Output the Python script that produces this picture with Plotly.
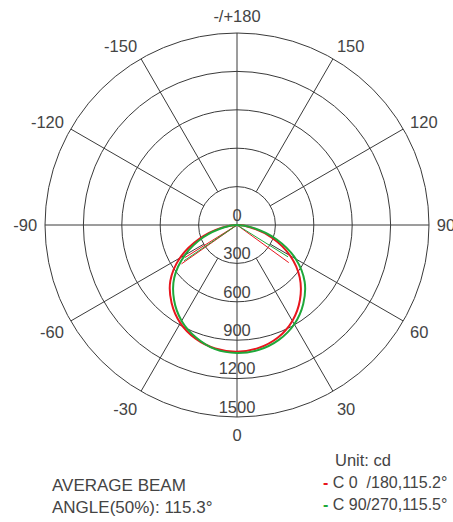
import plotly.graph_objects as go

W, H = 453, 522

# ---- data ----
angle_ticks = [0, 30, 60, 90, 120, 150, 180, 210, 240, 270, 300, 330]
angle_labels = ["0", "30", "60", "90", "120", "150", "-/+180", "-150", "-120", "-90", "-60", "-30"]
radial_ticks = [0, 300, 600, 900, 1200, 1500]

theta_deg = [-90, -80, -70, -60, -50, -40, -30, -20, -10, 0, 10, 20, 30, 40, 50, 60, 70, 80, 90]
red_cd = [0, 120, 310, 515, 680, 795, 885, 945, 980, 990, 975, 935, 865, 765, 640, 480, 290, 110, 0]
green_cd = [0, 100, 280, 470, 640, 765, 865, 935, 985, 1000, 990, 955, 895, 805, 690, 530, 330, 130, 0]

red_chord_theta = [-58, -55, 54]
red_chord_cd = [480, 530, 500]
green_chord_theta = [-56, 58]
green_chord_cd = [500, 470]

RED = "#e8161e"
GREEN = "#1fa83a"
GRID = "#3a3a3a"
TXT = "#444444"
LABEL_SIZE = 16.5

fig = go.Figure()

# spokes (axes through centre; others start at first ring)
sp_t, sp_r = [], []
for a in angle_ticks:
    r0 = 0 if a % 90 == 0 else radial_ticks[1]
    sp_t += [a, a, None]
    sp_r += [r0, radial_ticks[-1], None]
fig.add_trace(go.Scatterpolar(theta=sp_t, r=sp_r, mode="lines",
                              line=dict(color=GRID, width=1), hoverinfo="skip", showlegend=False))

# radial value labels along the 0 direction
fig.add_trace(go.Scatterpolar(theta=[0] * len(radial_ticks), r=radial_ticks, mode="text",
                              text=[str(v) for v in radial_ticks], textposition="top center",
                              textfont=dict(size=LABEL_SIZE, color=TXT, family="Liberation Sans, Arial"),
                              cliponaxis=False, hoverinfo="skip", showlegend=False))

def chords(th, rr):
    t, r = [], []
    for a, v in zip(th, rr):
        t += [a, a, None]
        r += [0, v, None]
    return t, r

t, r = chords(red_chord_theta, red_chord_cd)
fig.add_trace(go.Scatterpolar(theta=t, r=r, mode="lines", line=dict(color=RED, width=1),
                              hoverinfo="skip", showlegend=False))
t, r = chords(green_chord_theta, green_chord_cd)
fig.add_trace(go.Scatterpolar(theta=t, r=r, mode="lines", line=dict(color=GREEN, width=1),
                              hoverinfo="skip", showlegend=False))

fig.add_trace(go.Scatterpolar(theta=theta_deg, r=red_cd, mode="lines",
                              line=dict(color=RED, width=2, shape="spline"), showlegend=False))
fig.add_trace(go.Scatterpolar(theta=theta_deg, r=green_cd, mode="lines",
                              line=dict(color=GREEN, width=2, shape="spline"), showlegend=False))

cx, cy, R = 237, 225, 192
fig.update_layout(
    width=W, height=H,
    margin=dict(l=0, r=0, t=0, b=0),
    paper_bgcolor="white",
    font=dict(family="Liberation Sans, Arial", color=TXT),
    polar=dict(
        domain=dict(x=[(cx - R) / W, (cx + R) / W], y=[1 - (cy + R) / H, 1 - (cy - R) / H]),
        bgcolor="white",
        radialaxis=dict(range=[0, 1500], tickvals=radial_ticks[1:-1], showticklabels=False,
                        ticks="", showline=False, gridcolor=GRID, gridwidth=1),
        angularaxis=dict(rotation=270, direction="counterclockwise", tickmode="array",
                         tickvals=angle_ticks, ticktext=angle_labels, showgrid=False,
                         ticks="outside", ticklen=4, tickcolor="rgba(0,0,0,0)",
                         showline=True, linecolor=GRID, linewidth=1,
                         tickfont=dict(size=LABEL_SIZE, color=TXT)),
    ),
    annotations=[
        dict(x=50 / W, y=1 - 496 / H, xref="paper", yref="paper", xanchor="left", yanchor="middle",
             align="left", showarrow=False, text="AVERAGE BEAM<br>ANGLE(50%): 115.3°",
             font=dict(size=17, color=TXT)),
        dict(x=333 / W, y=1 - 460 / H, xref="paper", yref="paper", xanchor="left", yanchor="middle",
             showarrow=False, text="Unit: cd", font=dict(size=16.5, color=TXT)),
        dict(x=321 / W, y=1 - 482 / H, xref="paper", yref="paper", xanchor="left", yanchor="middle",
             showarrow=False,
             text=f"<span style='color:{RED}'><b>-</b></span> C 0\u00a0\u00a0/180,115.2°",
             font=dict(size=16, color=TXT)),
        dict(x=321 / W, y=1 - 504 / H, xref="paper", yref="paper", xanchor="left", yanchor="middle",
             showarrow=False,
             text=f"<span style='color:{GREEN}'><b>-</b></span> C 90/270,115.5°",
             font=dict(size=16, color=TXT)),
    ],
)

fig.write_html("out.html", config={"displayModeBar": False},
               post_script="document.body.style.margin='0';")
